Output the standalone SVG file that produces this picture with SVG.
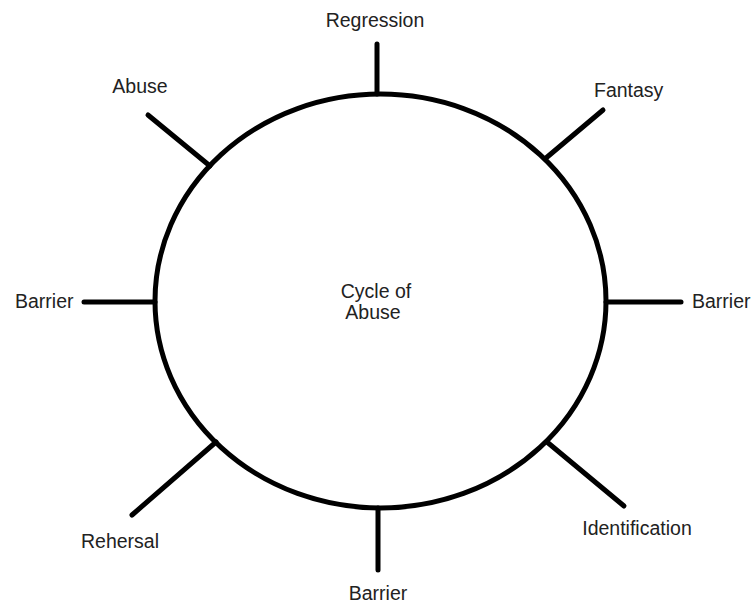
<svg xmlns="http://www.w3.org/2000/svg" width="752" height="605" viewBox="0 0 752 605">
<style>
.ln{stroke:#000;stroke-width:5;fill:none;stroke-linecap:round}
.t{font-family:"Liberation Sans",Arial,sans-serif;font-size:19.5px;fill:#222}
</style>
<rect width="752" height="605" fill="#fff"/>
<g id="connectors">
<line class="ln" x1="377" y1="44" x2="377" y2="94"/>
<line class="ln" x1="148" y1="115" x2="210" y2="166"/>
<line class="ln" x1="603" y1="110" x2="546" y2="158"/>
<line class="ln" x1="84" y1="302" x2="155" y2="302"/>
<line class="ln" x1="606" y1="302" x2="681" y2="302"/>
<line class="ln" x1="132" y1="515" x2="216" y2="442"/>
<line class="ln" x1="547" y1="442" x2="624" y2="506"/>
<line class="ln" x1="378" y1="508" x2="378" y2="570"/>
</g>
<g id="cycle">
<ellipse class="ln" cx="380.5" cy="301" rx="225.5" ry="207"/>
<text class="t" x="376" y="298" text-anchor="middle">Cycle of</text>
<text class="t" x="373" y="319" text-anchor="middle">Abuse</text>
</g>
<g id="regression"><text class="t" x="375" y="27" text-anchor="middle">Regression</text></g>
<g id="abuse"><text class="t" x="140" y="93" text-anchor="middle">Abuse</text></g>
<g id="fantasy"><text class="t" x="594" y="97">Fantasy</text></g>
<g id="barrier-left"><text class="t" x="15" y="308">Barrier</text></g>
<g id="barrier-right"><text class="t" x="692" y="308">Barrier</text></g>
<g id="rehersal"><text class="t" x="120" y="548" text-anchor="middle">Rehersal</text></g>
<g id="identification"><text class="t" x="637" y="535" text-anchor="middle">Identification</text></g>
<g id="barrier-bottom"><text class="t" x="378" y="600" text-anchor="middle">Barrier</text></g>
</svg>
